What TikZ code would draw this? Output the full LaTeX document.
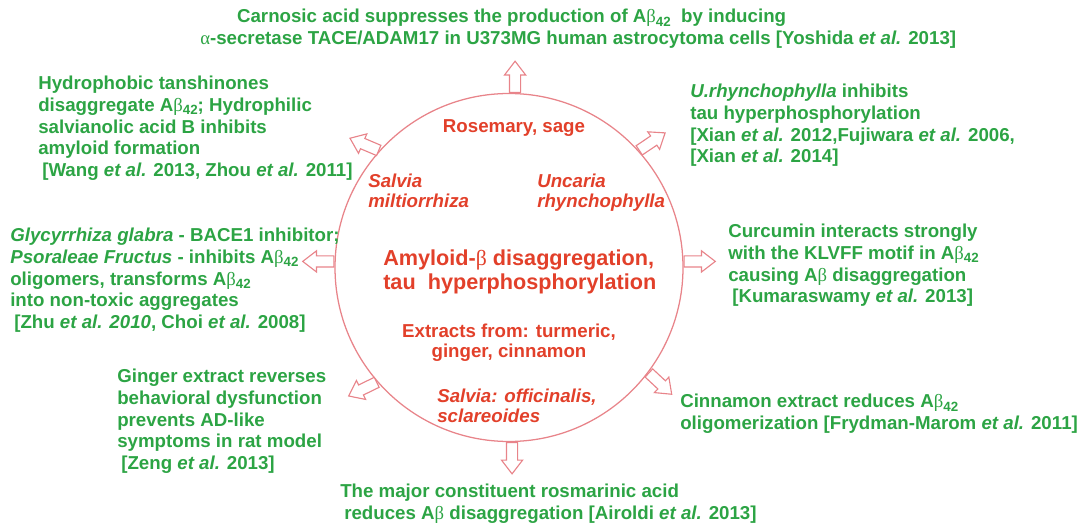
\documentclass[tikz,border=0pt]{standalone}
\usepackage{fontspec}
\setmainfont{Liberation Sans}
\newfontfamily\grk{Liberation Serif}
\usetikzlibrary{shapes.arrows}
\definecolor{cGRN}{HTML}{2CA444}
\definecolor{cRED}{HTML}{E2402A}
\definecolor{cPNK}{HTML}{E8848A}
\newcommand{\Ab}{A{\grk\mdseries β}}
\newcommand{\Absub}[1]{\Ab\raisebox{-0.35ex}{\fontsize{9.5}{9.5}\selectfont #1}}

\begin{document}
\begin{tikzpicture}[
  note/.style={font=\fontsize{13.3}{15.4}\selectfont\bfseries, text=cGRN, align=left, inner sep=0pt, anchor=north west},
  herb/.style={font=\fontsize{13.3}{14.2}\selectfont\bfseries, text=cRED, align=left, inner sep=0pt, anchor=north west},
  blockarrow/.style={shape=single arrow, draw=cPNK, fill=white, line width=0.8pt, minimum height=0.78cm,
    inner xsep=0pt, inner ysep=0.125cm, single arrow head extend=0.125cm, single arrow tip angle=75, anchor=tail}]
\useasboundingbox (0,0) rectangle (27.2,13.1);
\node[circle, draw=cPNK, line width=0.9pt, minimum size=8.7cm] (hub) at (12.725,6.4125) {};
% arrows out of the circle
\node[blockarrow, rotate=90] (aN) at (hub.88) {};
\node[blockarrow, rotate=34] (aNE) at (hub.42) {};
\node[blockarrow, rotate=0] (aE) at (hub.2) {};
\node[blockarrow, rotate=-43] (aSE) at (hub.-37) {};
\node[blockarrow, rotate=-90] (aS) at (hub.-89) {};
\node[blockarrow, rotate=206] (aSW) at (hub.221) {};
\node[blockarrow, rotate=180] (aW) at (hub.178) {};
\node[blockarrow, rotate=157] (aNW) at (hub.138) {};
% inside the circle
\node[herb, anchor=center] (rose) at (12.85,9.9) {Rosemary, sage};
\node[herb, font=\fontsize{13.3}{14.2}\selectfont\bfseries\itshape] (salm) at (9.2,8.75) {Salvia\\miltiorrhiza};
\node[herb, font=\fontsize{13.3}{14.2}\selectfont\bfseries\itshape] (unca) at (13.425,8.75) {Uncaria\\rhynchophylla};
\node[herb, font=\fontsize{15.4}{16.4}\selectfont\bfseries] (core) at (9.575,6.85) {Amyloid-{\grk\mdseries β} disaggregation,\\tau\ \ hyperphosphorylation};
\node[herb, anchor=north, align=center] (extr) at (12.725,5.0) {Extracts from: turmeric,\\ginger, cinnamon};
\node[herb, font=\fontsize{13.3}{14.2}\selectfont\bfseries\itshape] (salo) at (10.925,3.375) {Salvia: officinalis,\\sclareoides};
% findings round the circle
\node[note] (carn) at (5.0,12.875) {\hspace*{0.92cm}Carnosic acid suppresses the production of \Absub{42}\ \ by inducing\\
  {\grk\mdseries α}-secretase TACE/ADAM17 in U373MG human astrocytoma cells [Yoshida \textit{et al.} 2013]};
\node[note] (tans) at (0.95,11.2) {Hydrophobic tanshinones\\disaggregate \Absub{42}; Hydrophilic\\salvianolic acid B inhibits\\amyloid formation\\
  \hspace*{0.1cm}[Wang \textit{et al.} 2013, Zhou \textit{et al.} 2011]};
\node[note] (uryn) at (17.25,11.0) {\textit{U.rhynchophylla} inhibits\\tau hyperphosphorylation\\
  {}[Xian \textit{et al.} 2012,Fujiwara \textit{et al.} 2006,\\{}[Xian \textit{et al.} 2014]};
\node[note] (glyc) at (0.25,7.4) {\textit{Glycyrrhiza glabra} - BACE1 inhibitor;\\\textit{Psoraleae Fructus} - inhibits \Absub{42}\\
  oligomers, transforms \Absub{42}\\into non-toxic aggregates\\\hspace*{0.1cm}[Zhu \textit{et al. 2010}, Choi \textit{et al.} 2008]};
\node[note] (curc) at (18.2,7.5) {Curcumin interacts strongly\\with the KLVFF motif in \Absub{42}\\causing \Ab\ disaggregation\\
  \hspace*{0.1cm}[Kumaraswamy \textit{et al.} 2013]};
\node[note] (ging) at (2.925,3.875) {Ginger extract reverses\\behavioral dysfunction\\prevents AD-like\\symptoms in rat model\\
  \hspace*{0.1cm}[Zeng \textit{et al.} 2013]};
\node[note] (cinn) at (17.0,3.25) {Cinnamon extract reduces \Absub{42}\\oligomerization [Frydman-Marom \textit{et al.} 2011]};
\node[note] (rosm) at (8.5,1.0) {The major constituent rosmarinic acid\\
  \hspace*{0.1cm}reduces \Ab\ disaggregation [Airoldi \textit{et al.} 2013]};
\end{tikzpicture}
\end{document}
